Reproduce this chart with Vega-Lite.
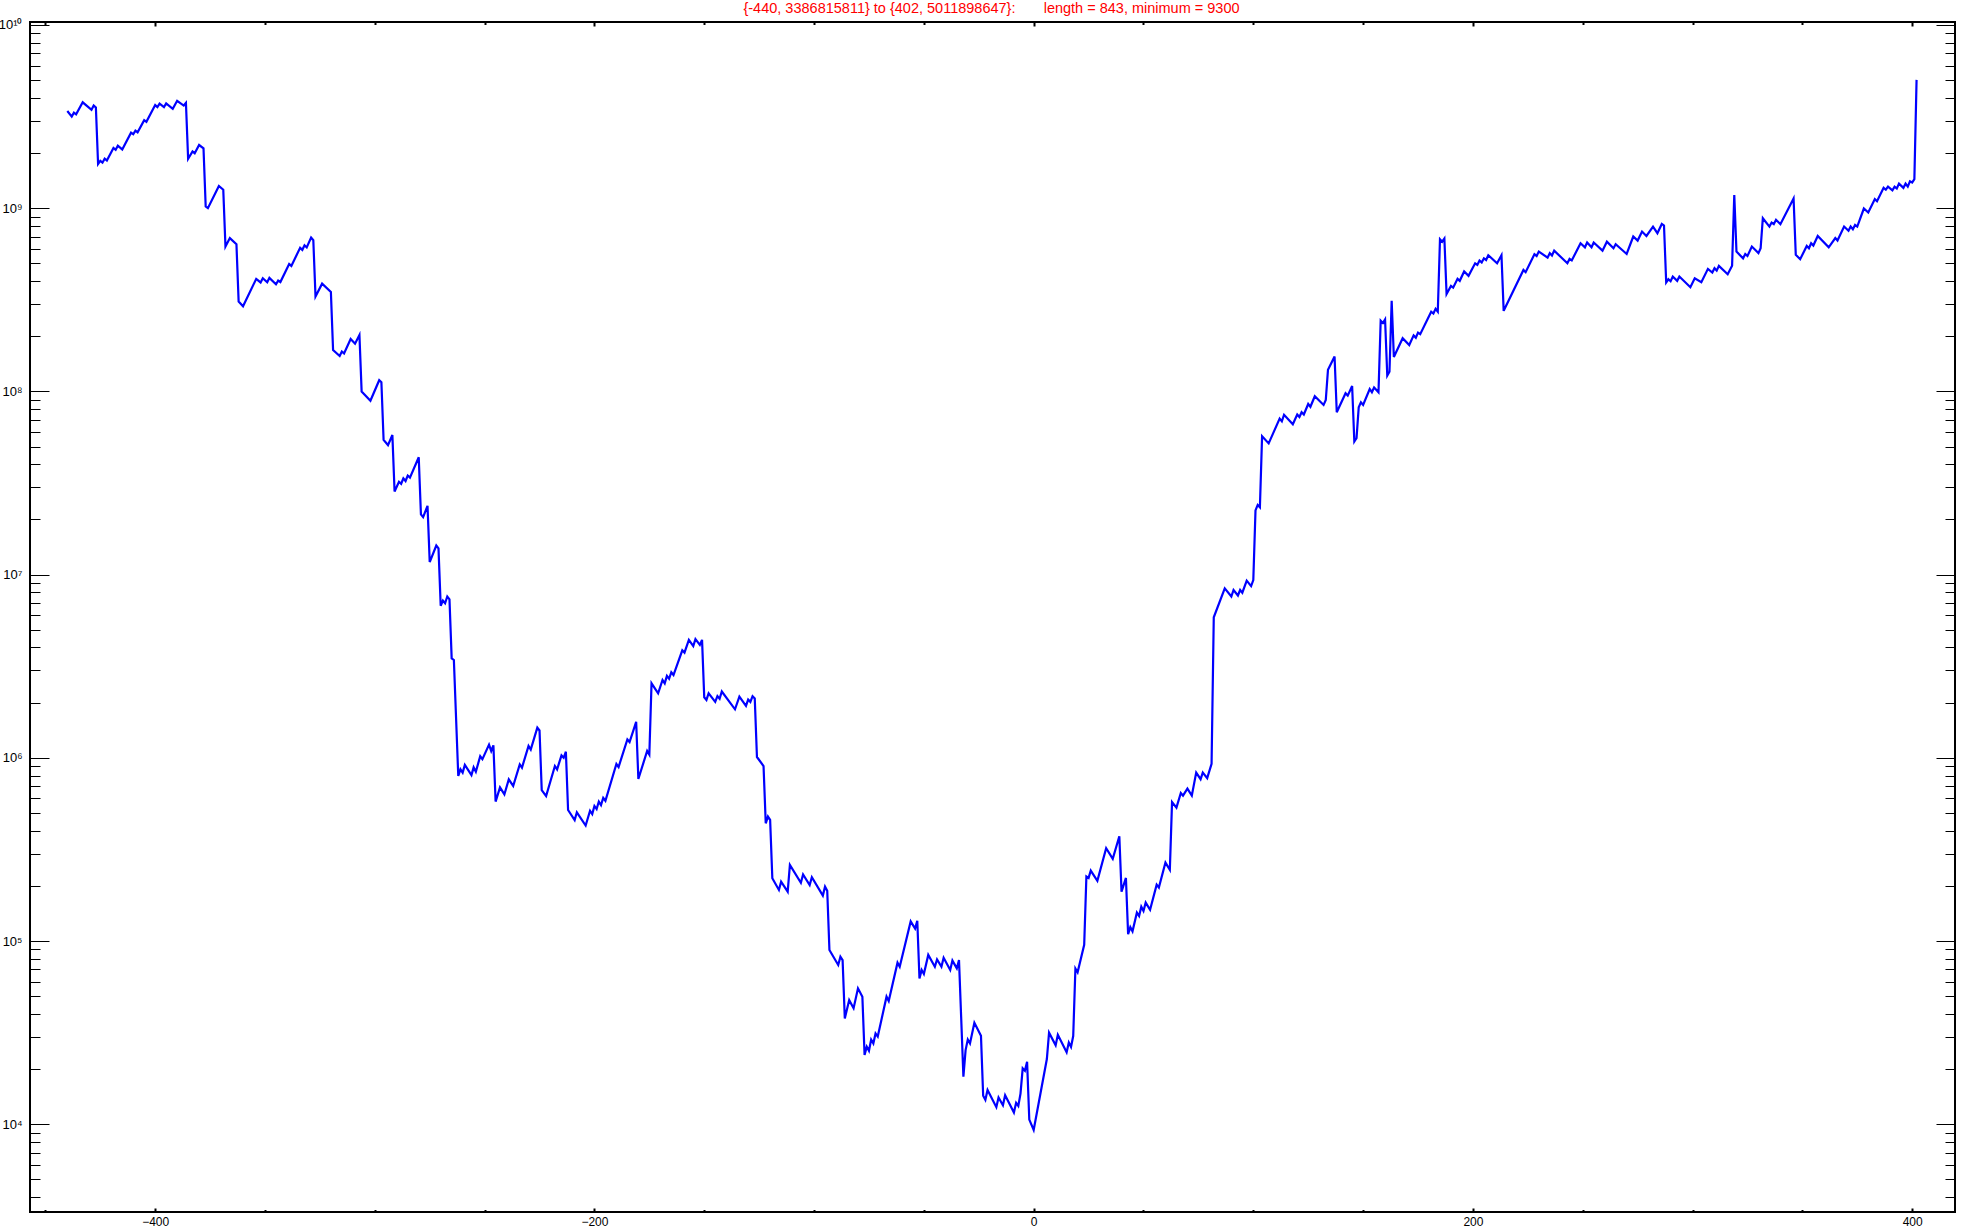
{
  "$schema": "https://vega.github.io/schema/vega-lite/v6.json",
  "width": 1925,
  "height": 1190,
  "autosize": "none",
  "padding": {"left": 30, "top": 22, "right": 6, "bottom": 20},
  "background": "white",
  "config": {
    "view": {"stroke": "black", "strokeWidth": 2},
    "axis": {"grid": false, "domain": false, "labelFont": "Liberation Sans", "labelColor": "black", "tickColor": "black", "title": null, "zindex": 1}
  },
  "data": {"values": [
{"x":-440,"y":3386815811},{"x":-438,"y":3.16e9},{"x":-437,"y":3.32e9},{"x":-436,"y":3.25e9},{"x":-433,"y":3.78e9},{"x":-429,"y":3.44e9},{"x":-428,"y":3.63e9},{"x":-427,"y":3.54e9},{"x":-426,"y":1.74e9},{"x":-425,"y":1.81e9},{"x":-424,"y":1.77e9},{"x":-423,"y":1.86e9},{"x":-422,"y":1.82e9},{"x":-419,"y":2.13e9},{"x":-418,"y":2.08e9},{"x":-417,"y":2.19e9},{"x":-415,"y":2.09e9},{"x":-411,"y":2.58e9},{"x":-410,"y":2.53e9},{"x":-409,"y":2.65e9},{"x":-408,"y":2.59e9},{"x":-405,"y":3.02e9},{"x":-404,"y":2.96e9},{"x":-400,"y":3.65e9},{"x":-399,"y":3.56e9},{"x":-398,"y":3.72e9},{"x":-396,"y":3.56e9},{"x":-395,"y":3.73e9},{"x":-392,"y":3.48e9},{"x":-390,"y":3.85e9},{"x":-387,"y":3.63e9},{"x":-386,"y":3.75e9},{"x":-385,"y":1.86e9},{"x":-383,"y":2.04e9},{"x":-382,"y":1.99e9},{"x":-380,"y":2.21e9},{"x":-378,"y":2.12e9},{"x":-377,"y":1.02e9},{"x":-376,"y":1.00e9},{"x":-371,"y":1.32e9},{"x":-369,"y":1.26e9},{"x":-368,"y":6.17e8},{"x":-366,"y":6.86e8},{"x":-363,"y":6.35e8},{"x":-362,"y":3.09e8},{"x":-360,"y":2.91e8},{"x":-354,"y":4.11e8},{"x":-352,"y":3.93e8},{"x":-351,"y":4.14e8},{"x":-349,"y":3.94e8},{"x":-348,"y":4.16e8},{"x":-345,"y":3.84e8},{"x":-344,"y":4.02e8},{"x":-343,"y":3.95e8},{"x":-339,"y":4.96e8},{"x":-338,"y":4.84e8},{"x":-334,"y":6.07e8},{"x":-333,"y":5.92e8},{"x":-332,"y":6.27e8},{"x":-331,"y":6.10e8},{"x":-329,"y":6.90e8},{"x":-328,"y":6.68e8},{"x":-327,"y":3.29e8},{"x":-324,"y":3.87e8},{"x":-320,"y":3.49e8},{"x":-319,"y":1.68e8},{"x":-316,"y":1.56e8},{"x":-315,"y":1.65e8},{"x":-314,"y":1.61e8},{"x":-311,"y":1.93e8},{"x":-309,"y":1.82e8},{"x":-307,"y":2.03e8},{"x":-306,"y":9.98e7},{"x":-302,"y":8.89e7},{"x":-298,"y":1.15e8},{"x":-297,"y":1.12e8},{"x":-296,"y":5.43e7},{"x":-294,"y":5.09e7},{"x":-292,"y":5.78e7},{"x":-291,"y":2.84e7},{"x":-289,"y":3.21e7},{"x":-288,"y":3.13e7},{"x":-287,"y":3.35e7},{"x":-286,"y":3.24e7},{"x":-285,"y":3.47e7},{"x":-284,"y":3.38e7},{"x":-280,"y":4.37e7},{"x":-279,"y":2.13e7},{"x":-278,"y":2.06e7},{"x":-276,"y":2.37e7},{"x":-275,"y":1.17e7},{"x":-272,"y":1.44e7},{"x":-271,"y":1.39e7},{"x":-270,"y":6.76e6},{"x":-269,"y":7.21e6},{"x":-268,"y":6.97e6},{"x":-267,"y":7.59e6},{"x":-266,"y":7.33e6},{"x":-265,"y":3.49e6},{"x":-264,"y":3.42e6},{"x":-262,"y":7.96e5},{"x":-261,"y":8.65e5},{"x":-260,"y":8.30e5},{"x":-259,"y":9.14e5},{"x":-256,"y":8.05e5},{"x":-255,"y":8.87e5},{"x":-254,"y":8.40e5},{"x":-252,"y":1.02e6},{"x":-251,"y":9.84e5},{"x":-248,"y":1.18e6},{"x":-247,"y":1.09e6},{"x":-246,"y":1.17e6},{"x":-245,"y":5.77e5},{"x":-243,"y":6.90e5},{"x":-241,"y":6.31e5},{"x":-239,"y":7.62e5},{"x":-237,"y":7.02e5},{"x":-234,"y":9.20e5},{"x":-233,"y":8.83e5},{"x":-230,"y":1.16e6},{"x":-229,"y":1.11e6},{"x":-226,"y":1.46e6},{"x":-225,"y":1.41e6},{"x":-224,"y":6.67e5},{"x":-222,"y":6.18e5},{"x":-218,"y":9.02e5},{"x":-217,"y":8.65e5},{"x":-215,"y":1.03e6},{"x":-214,"y":1.00e6},{"x":-213,"y":1.08e6},{"x":-212,"y":5.19e5},{"x":-209,"y":4.57e5},{"x":-208,"y":5.04e5},{"x":-204,"y":4.27e5},{"x":-202,"y":5.14e5},{"x":-201,"y":4.93e5},{"x":-200,"y":5.46e5},{"x":-199,"y":5.25e5},{"x":-198,"y":5.77e5},{"x":-197,"y":5.52e5},{"x":-196,"y":6.05e5},{"x":-195,"y":5.83e5},{"x":-190,"y":9.25e5},{"x":-189,"y":8.91e5},{"x":-185,"y":1.26e6},{"x":-184,"y":1.22e6},{"x":-181,"y":1.57e6},{"x":-180,"y":7.66e5},{"x":-176,"y":1.09e6},{"x":-175,"y":1.04e6},{"x":-174,"y":2.55e6},{"x":-171,"y":2.25e6},{"x":-169,"y":2.66e6},{"x":-168,"y":2.55e6},{"x":-167,"y":2.80e6},{"x":-166,"y":2.70e6},{"x":-165,"y":2.93e6},{"x":-164,"y":2.83e6},{"x":-160,"y":3.86e6},{"x":-159,"y":3.75e6},{"x":-157,"y":4.40e6},{"x":-155,"y":4.07e6},{"x":-154,"y":4.44e6},{"x":-152,"y":4.13e6},{"x":-151,"y":4.40e6},{"x":-150,"y":2.14e6},{"x":-149,"y":2.07e6},{"x":-148,"y":2.25e6},{"x":-145,"y":2.02e6},{"x":-144,"y":2.17e6},{"x":-143,"y":2.10e6},{"x":-142,"y":2.30e6},{"x":-136,"y":1.84e6},{"x":-134,"y":2.16e6},{"x":-131,"y":1.92e6},{"x":-130,"y":2.08e6},{"x":-129,"y":2.02e6},{"x":-128,"y":2.17e6},{"x":-127,"y":2.11e6},{"x":-126,"y":1.01e6},{"x":-123,"y":9.02e5},{"x":-122,"y":4.39e5},{"x":-121,"y":4.78e5},{"x":-120,"y":4.58e5},{"x":-119,"y":2.20e5},{"x":-116,"y":1.90e5},{"x":-115,"y":2.11e5},{"x":-112,"y":1.86e5},{"x":-111,"y":2.60e5},{"x":-106,"y":2.08e5},{"x":-105,"y":2.31e5},{"x":-102,"y":2.02e5},{"x":-101,"y":2.23e5},{"x":-96,"y":1.77e5},{"x":-95,"y":1.98e5},{"x":-94,"y":1.88e5},{"x":-93,"y":8.93e4},{"x":-89,"y":7.40e4},{"x":-88,"y":8.22e4},{"x":-87,"y":7.87e4},{"x":-86,"y":3.78e4},{"x":-84,"y":4.76e4},{"x":-82,"y":4.30e4},{"x":-80,"y":5.52e4},{"x":-78,"y":4.97e4},{"x":-77,"y":2.39e4},{"x":-76,"y":2.65e4},{"x":-75,"y":2.52e4},{"x":-74,"y":2.90e4},{"x":-73,"y":2.76e4},{"x":-72,"y":3.13e4},{"x":-71,"y":3.01e4},{"x":-67,"y":4.97e4},{"x":-66,"y":4.70e4},{"x":-62,"y":7.62e4},{"x":-61,"y":7.24e4},{"x":-56,"y":1.28e5},{"x":-54,"y":1.17e5},{"x":-53,"y":1.29e5},{"x":-52,"y":6.25e4},{"x":-51,"y":6.95e4},{"x":-50,"y":6.61e4},{"x":-48,"y":8.40e4},{"x":-45,"y":7.24e4},{"x":-44,"y":7.94e4},{"x":-42,"y":7.24e4},{"x":-41,"y":8.11e4},{"x":-38,"y":6.95e4},{"x":-37,"y":7.82e4},{"x":-35,"y":7.10e4},{"x":-34,"y":7.87e4},{"x":-32,"y":1.82e4},{"x":-31,"y":2.54e4},{"x":-30,"y":2.90e4},{"x":-29,"y":2.76e4},{"x":-27,"y":3.58e4},{"x":-24,"y":3.04e4},{"x":-23,"y":1.43e4},{"x":-22,"y":1.36e4},{"x":-21,"y":1.54e4},{"x":-17,"y":1.24e4},{"x":-16,"y":1.40e4},{"x":-14,"y":1.27e4},{"x":-13,"y":1.44e4},{"x":-9,"y":1.16e4},{"x":-8,"y":1.31e4},{"x":-7,"y":1.26e4},{"x":-6,"y":1.47e4},{"x":-5,"y":2.02e4},{"x":-4,"y":1.96e4},{"x":-3,"y":2.19e4},{"x":-2,"y":1.06e4},{"x":0,"y":9300},{"x":6,"y":2.27e4},{"x":7,"y":3.16e4},{"x":10,"y":2.70e4},{"x":11,"y":3.08e4},{"x":15,"y":2.47e4},{"x":16,"y":2.79e4},{"x":17,"y":2.64e4},{"x":18,"y":3.03e4},{"x":19,"y":7.08e4},{"x":20,"y":6.75e4},{"x":23,"y":9.53e4},{"x":24,"y":2.25e5},{"x":25,"y":2.21e5},{"x":26,"y":2.42e5},{"x":29,"y":2.13e5},{"x":33,"y":3.21e5},{"x":36,"y":2.81e5},{"x":39,"y":3.73e5},{"x":40,"y":1.86e5},{"x":42,"y":2.21e5},{"x":43,"y":1.09e5},{"x":44,"y":1.19e5},{"x":45,"y":1.13e5},{"x":47,"y":1.43e5},{"x":48,"y":1.37e5},{"x":49,"y":1.54e5},{"x":50,"y":1.46e5},{"x":51,"y":1.62e5},{"x":53,"y":1.48e5},{"x":56,"y":2.03e5},{"x":57,"y":1.96e5},{"x":60,"y":2.68e5},{"x":62,"y":2.45e5},{"x":63,"y":5.73e5},{"x":65,"y":5.35e5},{"x":67,"y":6.43e5},{"x":68,"y":6.22e5},{"x":70,"y":6.79e5},{"x":72,"y":6.22e5},{"x":74,"y":8.30e5},{"x":76,"y":7.64e5},{"x":77,"y":8.30e5},{"x":79,"y":7.75e5},{"x":81,"y":9.27e5},{"x":82,"y":5.85e6},{"x":87,"y":8.41e6},{"x":90,"y":7.59e6},{"x":91,"y":8.24e6},{"x":93,"y":7.69e6},{"x":94,"y":8.24e6},{"x":95,"y":7.96e6},{"x":97,"y":9.27e6},{"x":99,"y":8.65e6},{"x":100,"y":9.33e6},{"x":101,"y":2.24e7},{"x":102,"y":2.40e7},{"x":103,"y":2.33e7},{"x":104,"y":5.69e7},{"x":107,"y":5.20e7},{"x":112,"y":7.10e7},{"x":113,"y":6.86e7},{"x":114,"y":7.45e7},{"x":118,"y":6.62e7},{"x":120,"y":7.48e7},{"x":121,"y":7.24e7},{"x":122,"y":7.69e7},{"x":123,"y":7.48e7},{"x":125,"y":8.53e7},{"x":126,"y":8.24e7},{"x":128,"y":9.40e7},{"x":132,"y":8.43e7},{"x":133,"y":8.97e7},{"x":134,"y":1.31e8},{"x":137,"y":1.55e8},{"x":138,"y":7.69e7},{"x":142,"y":9.77e7},{"x":143,"y":9.48e7},{"x":145,"y":1.07e8},{"x":146,"y":5.32e7},{"x":147,"y":5.55e7},{"x":148,"y":8.19e7},{"x":149,"y":8.71e7},{"x":150,"y":8.43e7},{"x":153,"y":1.03e8},{"x":154,"y":9.89e7},{"x":155,"y":1.05e8},{"x":157,"y":9.89e7},{"x":158,"y":2.43e8},{"x":159,"y":2.36e8},{"x":160,"y":2.47e8},{"x":161,"y":1.22e8},{"x":162,"y":1.28e8},{"x":163,"y":3.12e8},{"x":164,"y":1.54e8},{"x":168,"y":1.95e8},{"x":171,"y":1.79e8},{"x":173,"y":2.02e8},{"x":174,"y":1.96e8},{"x":175,"y":2.09e8},{"x":176,"y":2.05e8},{"x":181,"y":2.72e8},{"x":182,"y":2.66e8},{"x":183,"y":2.82e8},{"x":184,"y":2.72e8},{"x":185,"y":6.76e8},{"x":186,"y":6.56e8},{"x":187,"y":6.82e8},{"x":188,"y":3.40e8},{"x":190,"y":3.76e8},{"x":191,"y":3.68e8},{"x":193,"y":4.11e8},{"x":194,"y":4.01e8},{"x":196,"y":4.51e8},{"x":198,"y":4.27e8},{"x":201,"y":5.00e8},{"x":202,"y":4.90e8},{"x":203,"y":5.18e8},{"x":204,"y":5.05e8},{"x":205,"y":5.32e8},{"x":206,"y":5.21e8},{"x":207,"y":5.53e8},{"x":211,"y":5.00e8},{"x":213,"y":5.53e8},{"x":214,"y":2.75e8},{"x":223,"y":4.60e8},{"x":224,"y":4.47e8},{"x":228,"y":5.60e8},{"x":229,"y":5.48e8},{"x":230,"y":5.79e8},{"x":234,"y":5.37e8},{"x":235,"y":5.68e8},{"x":236,"y":5.51e8},{"x":237,"y":5.86e8},{"x":243,"y":5.00e8},{"x":244,"y":5.28e8},{"x":245,"y":5.18e8},{"x":249,"y":6.43e8},{"x":251,"y":6.11e8},{"x":252,"y":6.49e8},{"x":254,"y":6.11e8},{"x":255,"y":6.49e8},{"x":259,"y":5.86e8},{"x":261,"y":6.56e8},{"x":264,"y":6.04e8},{"x":265,"y":6.35e8},{"x":270,"y":5.62e8},{"x":273,"y":7.00e8},{"x":275,"y":6.65e8},{"x":277,"y":7.45e8},{"x":279,"y":7.05e8},{"x":282,"y":7.93e8},{"x":284,"y":7.30e8},{"x":286,"y":8.20e8},{"x":287,"y":8.04e8},{"x":288,"y":3.93e8},{"x":289,"y":4.09e8},{"x":290,"y":3.99e8},{"x":291,"y":4.23e8},{"x":293,"y":4.01e8},{"x":294,"y":4.23e8},{"x":299,"y":3.70e8},{"x":301,"y":4.14e8},{"x":304,"y":3.94e8},{"x":307,"y":4.66e8},{"x":309,"y":4.45e8},{"x":310,"y":4.70e8},{"x":311,"y":4.56e8},{"x":312,"y":4.84e8},{"x":316,"y":4.36e8},{"x":318,"y":4.85e8},{"x":319,"y":1.18e9},{"x":320,"y":5.79e8},{"x":323,"y":5.32e8},{"x":324,"y":5.62e8},{"x":325,"y":5.48e8},{"x":327,"y":6.17e8},{"x":330,"y":5.68e8},{"x":331,"y":6.04e8},{"x":332,"y":8.81e8},{"x":335,"y":7.93e8},{"x":336,"y":8.34e8},{"x":337,"y":8.17e8},{"x":338,"y":8.63e8},{"x":340,"y":8.17e8},{"x":346,"y":1.13e9},{"x":347,"y":5.56e8},{"x":349,"y":5.26e8},{"x":352,"y":6.22e8},{"x":353,"y":6.04e8},{"x":354,"y":6.43e8},{"x":355,"y":6.25e8},{"x":357,"y":7.05e8},{"x":362,"y":6.11e8},{"x":365,"y":6.86e8},{"x":366,"y":6.65e8},{"x":369,"y":7.93e8},{"x":371,"y":7.52e8},{"x":372,"y":7.93e8},{"x":373,"y":7.67e8},{"x":374,"y":8.09e8},{"x":375,"y":7.93e8},{"x":378,"y":9.95e8},{"x":380,"y":9.46e8},{"x":383,"y":1.12e9},{"x":384,"y":1.09e9},{"x":387,"y":1.29e9},{"x":388,"y":1.26e9},{"x":389,"y":1.31e9},{"x":391,"y":1.25e9},{"x":392,"y":1.31e9},{"x":393,"y":1.28e9},{"x":394,"y":1.36e9},{"x":396,"y":1.29e9},{"x":397,"y":1.36e9},{"x":398,"y":1.31e9},{"x":399,"y":1.40e9},{"x":400,"y":1.38e9},{"x":401,"y":1.44e9},{"x":402,"y":5011898647}
  ]},
  "resolve": {"axis": {"x": "independent", "y": "independent"}},
  "layer": [
    {
      "mark": {"type": "line", "color": "#0000ff", "strokeWidth": 2.2, "strokeJoin": "miter", "clip": true},
      "encoding": {
        "x": {"field": "x", "type": "quantitative", "scale": {"domain": [-457, 419.5], "nice": false, "zero": false},
              "axis": {"orient": "bottom", "values": [-400, -200, 0, 200, 400], "tickSize": -4, "tickWidth": 2, "labelPadding": 8, "labelFontSize": 12}},
        "y": {"field": "y", "type": "quantitative", "scale": {"type": "log", "domain": [3320, 1.037e10], "nice": false},
              "axis": {"orient": "left", "values": [1e4, 1e5, 1e6, 1e7, 1e8, 1e9, 1e10], "tickSize": -19, "tickWidth": 1, "labelPadding": 27, "labelFontSize": 13,
                       "labelExpr": "'10' + ['⁰','¹','²','³','⁴','⁵','⁶','⁷','⁸','⁹','¹⁰'][round(log(datum.value)/LN10)]"}}
      }
    },
    {
      "mark": {"type": "line", "opacity": 0},
      "encoding": {
        "x": {"field": "x", "type": "quantitative", "scale": {"domain": [-457, 419.5], "nice": false, "zero": false},
              "axis": {"orient": "bottom", "values": [-450, -350, -300, -250, -150, -100, -50, 50, 100, 150, 250, 300, 350], "tickSize": -2.5, "tickWidth": 2, "labels": false}},
        "y": {"field": "y", "type": "quantitative", "scale": {"type": "log", "domain": [3320, 1.037e10], "nice": false},
              "axis": {"orient": "left", "values": [4000, 5000, 6000, 7000, 8000, 9000, 20000, 30000, 40000, 50000, 60000, 70000, 80000, 90000, 200000, 300000, 400000, 500000, 600000, 700000, 800000, 900000, 2000000, 3000000, 4000000, 5000000, 6000000, 7000000, 8000000, 9000000, 2e7, 3e7, 4e7, 5e7, 6e7, 7e7, 8e7, 9e7, 2e8, 3e8, 4e8, 5e8, 6e8, 7e8, 8e8, 9e8, 2e9, 3e9, 4e9, 5e9, 6e9, 7e9, 8e9, 9e9], "tickSize": -10, "tickWidth": 1, "labels": false}}
      }
    },
    {
      "mark": {"type": "line", "opacity": 0},
      "encoding": {
        "x": {"field": "x", "type": "quantitative", "scale": {"domain": [-457, 419.5], "nice": false, "zero": false},
              "axis": {"orient": "top", "values": [-400, -200, 0, 200, 400], "tickSize": -4, "tickWidth": 2, "labels": false,
                       "title": "{-440, 3386815811} to {402, 5011898647}:\u00a0\u00a0\u00a0\u00a0\u00a0\u00a0\u00a0length = 843, minimum = 9300",
                       "titleColor": "#ff0000", "titleFont": "Liberation Sans", "titleFontSize": 14.5, "titleFontWeight": "normal",
                       "titleX": 961, "titleY": -10, "titleAlign": "center", "titleAnchor": "middle", "titleBaseline": "alphabetic", "titlePadding": 0}},
        "y": {"field": "y", "type": "quantitative", "scale": {"type": "log", "domain": [3320, 1.037e10], "nice": false},
              "axis": {"orient": "right", "values": [1e4, 1e5, 1e6, 1e7, 1e8, 1e9, 1e10], "tickSize": -19, "tickWidth": 1, "labels": false}}
      }
    },
    {
      "mark": {"type": "line", "opacity": 0},
      "encoding": {
        "x": {"field": "x", "type": "quantitative", "scale": {"domain": [-457, 419.5], "nice": false, "zero": false},
              "axis": {"orient": "top", "values": [-450, -350, -300, -250, -150, -100, -50, 50, 100, 150, 250, 300, 350], "tickSize": -2.5, "tickWidth": 2, "labels": false}},
        "y": {"field": "y", "type": "quantitative", "scale": {"type": "log", "domain": [3320, 1.037e10], "nice": false},
              "axis": {"orient": "right", "values": [4000, 5000, 6000, 7000, 8000, 9000, 20000, 30000, 40000, 50000, 60000, 70000, 80000, 90000, 200000, 300000, 400000, 500000, 600000, 700000, 800000, 900000, 2000000, 3000000, 4000000, 5000000, 6000000, 7000000, 8000000, 9000000, 2e7, 3e7, 4e7, 5e7, 6e7, 7e7, 8e7, 9e7, 2e8, 3e8, 4e8, 5e8, 6e8, 7e8, 8e8, 9e8, 2e9, 3e9, 4e9, 5e9, 6e9, 7e9, 8e9, 9e9], "tickSize": -10, "tickWidth": 1, "labels": false}}
      }
    }
  ]
}
